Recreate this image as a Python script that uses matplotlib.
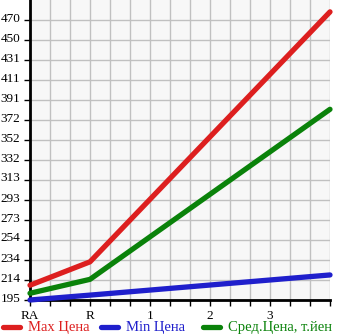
import matplotlib
matplotlib.use('Agg')
import matplotlib.pyplot as plt
import matplotlib.transforms as mtransforms
from matplotlib.lines import Line2D

x_labels = ['RA', 'R', '1', '2', '3']
x_pos = [0, 1, 5]
max_price = [209.5, 232.5, 478.0]
min_price = [195.0, 199.8, 219.6]
avg_price = [201.6, 215.3, 382.3]
y_ticks = [195.0 + i * (470.0 - 195.0) / 14 for i in range(15)]
y_labels = ['195', '214', '234', '254', '273', '293', '313', '332',
            '352', '372', '391', '411', '431', '450', '470']

legend_names = ['Max Цена', 'Min Цена', 'Сред.Цена, т.йен']
colors = ['#dd1f1f', '#1f1fcc', '#0a820a']

plt.rcParams['font.family'] = ['Liberation Serif', 'DejaVu Serif']

fig = plt.figure(figsize=(3.45, 3.35), dpi=100)
ax = fig.add_axes([30 / 345, 35 / 335, 300 / 345, 300 / 335])
ax.set_facecolor('#f7f7f7')

for vals, c in zip([max_price, min_price, avg_price], colors):
    ax.plot(x_pos, vals, color=c, lw=3.8, solid_capstyle='round',
            solid_joinstyle='round', clip_on=False, zorder=3)

ax.set_xlim(0, 5)
ax.set_ylim(195, 195 + 15 * (470 - 195) / 14)

ax.set_xticks([i / 3 for i in range(16)])
ax.set_xticklabels(['' if i % 3 else x_labels[i // 3] if i // 3 < len(x_labels) else ''
                    for i in range(16)])
ax.set_yticks(y_ticks)
ax.set_yticklabels(y_labels)
ax.grid(True, color='#c0c0c0', lw=1)
ax.set_axisbelow(True)

for s in ['top', 'right']:
    ax.spines[s].set_visible(False)
for s in ['left', 'bottom']:
    ax.spines[s].set_linewidth(2)
    ax.spines[s].set_color('black')
ax.tick_params(axis='both', length=4, width=1, labelsize=9.5, color='black')
ax.tick_params(axis='y', pad=3)
ax.tick_params(axis='x', pad=3)

# y labels sit a little above their grid lines in the original
shift = mtransforms.ScaledTranslation(0, 3 / 100, fig.dpi_scale_trans)
for lab in ax.get_yticklabels():
    lab.set_transform(lab.get_transform() + shift)

# legend drawn below the axes
legend_x = [0.0, 98 / 345, 200 / 345]
for lx, name, c in zip(legend_x, legend_names, colors):
    fig.add_artist(Line2D([lx + 3 / 345, lx + 20 / 345], [8 / 335, 8 / 335],
                          color=c, lw=3.8, solid_capstyle='round'))
    fig.text(lx + 28 / 345, 8 / 335, name, color=c, fontsize=10.5, va='center')

fig.savefig('out.png', dpi=100)
